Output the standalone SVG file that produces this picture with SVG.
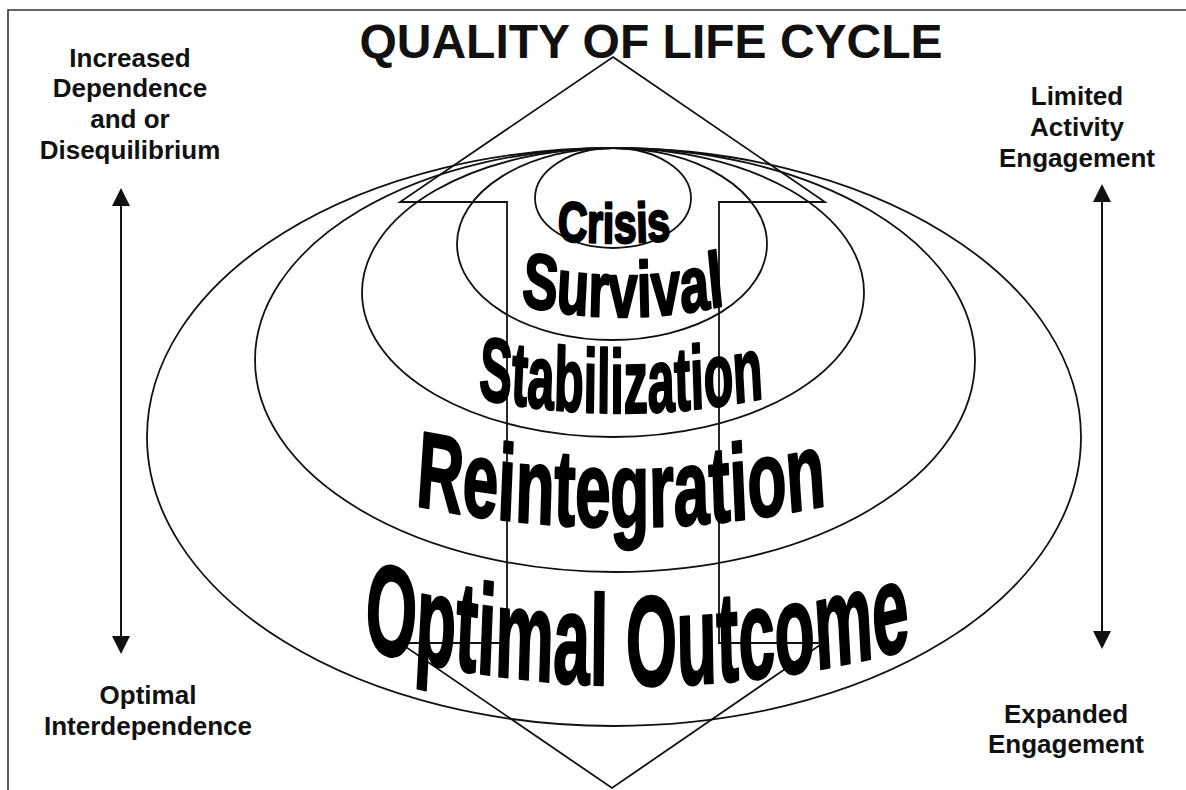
<svg xmlns="http://www.w3.org/2000/svg" xmlns:xlink="http://www.w3.org/1999/xlink" width="1186" height="790" viewBox="0 0 1186 790">
<style>
.ln{fill:none;stroke:#111;stroke-width:1.8}
.bd{fill:none;stroke:#333;stroke-width:1.6}
.lbl{font-family:"Liberation Sans",Arial,sans-serif;font-weight:bold;font-size:26px;fill:#111;text-anchor:middle}
.ttl{font-family:"Liberation Sans",Arial,sans-serif;font-weight:bold;font-size:48px;fill:#111;text-anchor:middle}
.wa{font-family:"Liberation Sans",Arial,sans-serif;font-weight:bold;fill:#000;stroke:#000;stroke-width:2.5;stroke-linejoin:round}
.ax{fill:none;stroke:#111;stroke-width:2}
</style>
<defs>
<marker id="ah" markerUnits="userSpaceOnUse" markerWidth="18" markerHeight="18" refX="0" refY="8" viewBox="0 0 16 16" orient="auto-start-reverse">
<path d="M0,0 L16,8 L0,16 Z" fill="#111"/>
</marker>
<path id="pOpt" d="M -620 635 Q 0 736 620 635"/>
<path id="pRei" d="M -400 498 Q 0 556 400 498"/>
<path id="pSta" d="M -320 391 Q 0 435 320 391"/>
<path id="pSur" d="M -200 296 Q 0 338 200 296"/>
<path id="pCri" d="M -120 236 Q 0 250 120 236"/>
</defs>
<rect width="1186" height="790" fill="#fff"/>
<g id="border">
<path class="bd" d="M8,790 L8,10 L1186,10"/>
</g>
<g id="title"><text class="ttl" x="651" y="58">QUALITY OF LIFE CYCLE</text></g>

<g id="optimal">
<ellipse class="ln" cx="614" cy="437" rx="467" ry="289"/>
</g>
<g id="reintegration">
<ellipse class="ln" cx="615" cy="360" rx="360" ry="212"/>
</g>
<g id="stabilization">
<ellipse class="ln" cx="613" cy="292.5" rx="251" ry="144.5"/>
</g>
<g id="survival">
<ellipse class="ln" cx="612" cy="244" rx="155" ry="96"/>
</g>
<g id="crisis">
<ellipse class="ln" cx="613" cy="198" rx="78" ry="50"/>
</g>

<g id="block-arrow">
<path class="ln" d="M613,57 L825,202 L719,202 L719,643 L823,643 L612,788 L400,643 L507,643 L507,202 L400,202 Z"/>
</g>

<g id="labels">
<g transform="translate(637,0) scale(0.515,1)"><text class="wa" font-size="128"><textPath xlink:href="#pOpt" href="#pOpt" startOffset="50%" text-anchor="middle">Optimal Outcome</textPath></text></g>
<g transform="translate(621,0) scale(0.593,1)"><text class="wa" font-size="108"><textPath xlink:href="#pRei" href="#pRei" startOffset="50%" text-anchor="middle">Reintegration</textPath></text></g>
<g transform="translate(621,0) scale(0.54,1)"><text class="wa" font-size="90"><textPath xlink:href="#pSta" href="#pSta" startOffset="50%" text-anchor="middle">Stabilization</textPath></text></g>
<g transform="translate(623,0) scale(0.675,1)"><text class="wa" font-size="78"><textPath xlink:href="#pSur" href="#pSur" startOffset="50%" text-anchor="middle">Survival</textPath></text></g>
<g transform="translate(614,0) scale(0.73,1)"><text class="wa" font-size="56"><textPath xlink:href="#pCri" href="#pCri" startOffset="50%" text-anchor="middle">Crisis</textPath></text></g>
</g>

<g id="connectors">
<line class="ax" x1="121" y1="206" x2="121" y2="636" marker-start="url(#ah)" marker-end="url(#ah)"/>
<line class="ax" x1="1102" y1="202" x2="1102" y2="631" marker-start="url(#ah)" marker-end="url(#ah)"/>
</g>

<g id="side-labels">
<text class="lbl" x="130" y="67">Increased</text>
<text class="lbl" x="130" y="97">Dependence</text>
<text class="lbl" x="130" y="128">and or</text>
<text class="lbl" x="130" y="159">Disequilibrium</text>
<text class="lbl" x="1077" y="105">Limited</text>
<text class="lbl" x="1077" y="136">Activity</text>
<text class="lbl" x="1077" y="167">Engagement</text>
<text class="lbl" x="148" y="704">Optimal</text>
<text class="lbl" x="148" y="735">Interdependence</text>
<text class="lbl" x="1066" y="723">Expanded</text>
<text class="lbl" x="1066" y="753">Engagement</text>
</g>
</svg>
